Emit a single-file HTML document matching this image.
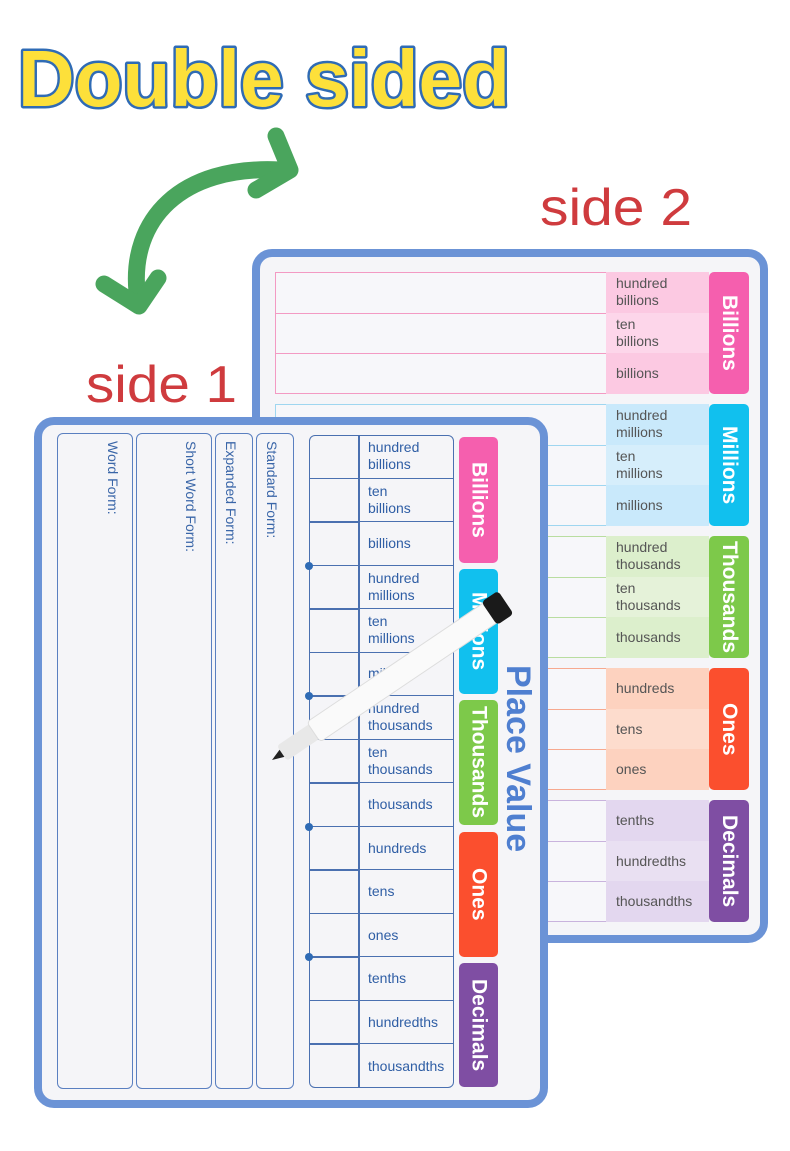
<!DOCTYPE html>
<html><head><meta charset="utf-8"><style>
*{margin:0;padding:0;box-sizing:border-box}
body{width:790px;height:1151px;background:#fff;position:relative;overflow:hidden;font-family:"Liberation Sans",sans-serif}
.a{position:absolute}
.board{position:absolute;border:8px solid #6b93d6;border-radius:20px;background:#f5f5f8}
.lbl{position:absolute;font-size:14px;line-height:17px;color:#555;padding-left:10px;display:flex;align-items:center}
.tab{position:absolute;border-radius:5px;color:#fff;font-weight:bold;font-size:21px;writing-mode:vertical-rl;display:flex;align-items:center;justify-content:center}
.vt{position:absolute;writing-mode:vertical-rl;color:#3a66a8;font-size:14px}
.cell{position:absolute;border-bottom:1.5px solid #4a70b0;font-size:14px;line-height:17px;color:#2f5ea5;display:flex;align-items:center;padding-left:10px}
</style></head><body>
<svg class="a" style="left:0;top:0" width="790" height="330">
<text x="18" y="106" font-family="Liberation Sans" font-weight="bold" font-size="80" textLength="492" lengthAdjust="spacingAndGlyphs" fill="#fde03a" stroke="#2f6bb5" stroke-width="5" paint-order="stroke" stroke-linejoin="round">Double sided</text>
<path d="M137,292 C130,220 180,165 280,170" fill="none" stroke="#4aa55d" stroke-width="17" stroke-linecap="round"/>
<path d="M276,136 L290,170 L256,190" fill="none" stroke="#4aa55d" stroke-width="17" stroke-linecap="round" stroke-linejoin="round"/>
<path d="M104,284 L139,306 L158,278" fill="none" stroke="#4aa55d" stroke-width="17" stroke-linecap="round" stroke-linejoin="round"/>
<text x="540" y="225" font-family="Liberation Sans" font-size="52" fill="#cf3b3e" textLength="152" lengthAdjust="spacingAndGlyphs">side 2</text>
</svg>

<!-- side 2 -->
<div class="board" style="left:252px;top:249px;width:516px;height:694px"></div>
<div id="s2"></div>

<svg class="a" style="left:80px;top:345px" width="170" height="70"><text x="6" y="57" font-family="Liberation Sans" font-size="52" fill="#cf3b3e" textLength="151" lengthAdjust="spacingAndGlyphs">side 1</text></svg>

<!-- side 1 -->
<div class="board" style="left:34px;top:417px;width:514px;height:691px"></div>
<div class="a" style="left:57px;top:433px;width:76px;height:656px;border:1.5px solid #5a7fc0;border-radius:6px"></div>
<div class="a" style="left:136px;top:433px;width:76px;height:656px;border:1.5px solid #5a7fc0;border-radius:6px"></div>
<div class="a" style="left:215px;top:433px;width:38px;height:656px;border:1.5px solid #5a7fc0;border-radius:6px"></div>
<div class="a" style="left:256px;top:433px;width:38px;height:656px;border:1.5px solid #5a7fc0;border-radius:6px"></div>
<div class="vt" style="left:105px;top:441px">Word Form:</div>
<div class="vt" style="left:183px;top:441px">Short Word Form:</div>
<div class="vt" style="left:223px;top:441px">Expanded Form:</div>
<div class="vt" style="left:264px;top:441px">Standard Form:</div>
<div class="a" style="left:309px;top:435px;width:145px;height:653px;border:1.5px solid #4a70b0;border-radius:6px"></div>
<div class="a" style="left:358px;top:435px;width:1.5px;height:653px;background:#4a70b0"></div>
<div id="s1"></div>
<div class="tab" style="left:459px;top:437px;width:39px;height:126px;background:#f55fae">Billions</div>
<div class="tab" style="left:459px;top:569px;width:39px;height:125px;background:#11c0ee">Millions</div>
<div class="tab" style="left:459px;top:700px;width:39px;height:125px;background:#7dc94a">Thousands</div>
<div class="tab" style="left:459px;top:832px;width:39px;height:125px;background:#fb4f2e">Ones</div>
<div class="tab" style="left:459px;top:963px;width:39px;height:124px;background:#7f4ea3">Decimals</div>
<div class="a" style="left:500px;top:665px;writing-mode:vertical-rl;font-weight:bold;font-size:34px;color:#4f7fd0;line-height:36px">Place Value</div>

<!-- pen -->
<svg class="a" style="left:260px;top:590px" width="260" height="190">
<g transform="translate(12,170) rotate(-34)">
<path d="M0,0 L14,-5 L14,5 Z" fill="#222"/>
<rect x="12" y="-9" width="40" height="18" rx="3" fill="#e8e8e8"/>
<rect x="50" y="-12" width="222" height="24" rx="4" fill="#fafafa" stroke="#ddd"/>
<rect x="262" y="-14" width="20" height="28" rx="4" fill="#1a1a1a"/>
</g>
</svg>

<script>
var s2=document.getElementById('s2'),h='';
var groups=[['#f55fae','#fcc9e2','#f39ac3',272,['hundred<br>billions','ten<br>billions','billions'],'Billions','#fdd6ea'],
['#11c0ee','#c9e9fb','#9fd6f0',404,['hundred<br>millions','ten<br>millions','millions'],'Millions','#d6eefb'],
['#7dc94a','#dcefcc','#b9dda0',536,['hundred<br>thousands','ten<br>thousands','thousands'],'Thousands','#e5f2d9'],
['#fb4f2e','#fdd2bf','#f7a98f',668,['hundreds','tens','ones'],'Ones','#fddccd'],
['#7f4ea3','#e3d7ef','#c9b3dd',800,['tenths','hundredths','thousandths'],'Decimals','#e9e0f2']];
groups.forEach(function(g){var y=g[3];
h+='<div class="a" style="left:275px;top:'+y+'px;width:332px;height:122px;border:1px solid '+g[2]+';background:#f7f7fa"></div>';
for(var i=1;i<3;i++)h+='<div class="a" style="left:275px;top:'+(y+i*40.7)+'px;width:332px;height:1px;background:'+g[2]+'"></div>';
for(var i=0;i<3;i++)h+='<div class="lbl" style="left:606px;top:'+(y+i*40.7)+'px;width:103px;height:40.7px;background:'+(i==1?g[6]:g[1])+'">'+g[4][i]+'</div>';
h+='<div class="tab" style="left:709px;top:'+y+'px;width:40px;height:122px;background:'+g[0]+'">'+g[5]+'</div>';
});
s2.innerHTML=h;
var labels=['hundred<br>billions','ten<br>billions','billions','hundred<br>millions','ten<br>millions','millions','hundred<br>thousands','ten<br>thousands','thousands','hundreds','tens','ones','tenths','hundredths','thousandths'];
h='';var rh=653/15;
labels.forEach(function(l,i){var y=435+i*rh;
h+='<div class="cell" style="left:358px;top:'+y+'px;width:96px;height:'+rh+'px;'+(i==14?'border-bottom:none':'')+'">'+l+'</div>';
if(i<14)h+='<div class="a" style="left:309px;top:'+(y+rh-1)+'px;width:50px;height:1.5px;background:#4a70b0"></div>';
});
[3,6,9,12].forEach(function(k){h+='<div class="a" style="left:305px;top:'+(435+k*rh-4)+'px;width:8px;height:8px;border-radius:50%;background:#2f6bb5"></div>';});
document.getElementById('s1').innerHTML=h;
</script>
</body></html>
